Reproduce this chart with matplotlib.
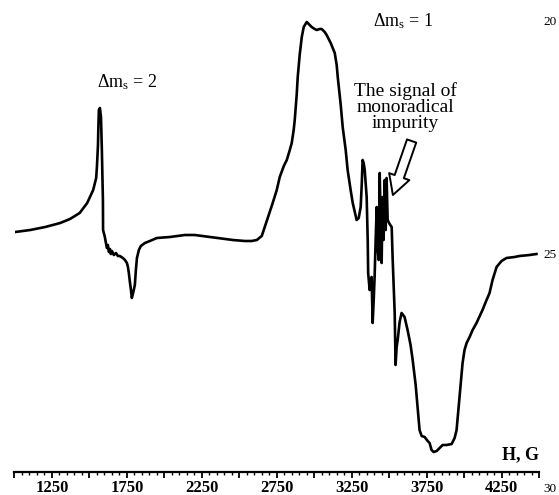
import matplotlib
matplotlib.use("Agg")
import matplotlib.pyplot as plt
from matplotlib.ticker import MultipleLocator, FuncFormatter

plt.rcParams['font.family'] = ['Liberation Serif', 'DejaVu Serif']
plt.rcParams['mathtext.fontset'] = 'custom'
plt.rcParams['mathtext.rm'] = 'Liberation Serif'
plt.rcParams['mathtext.it'] = 'Liberation Serif:italic'

# Magnetic field (G)
field = [1005, 1105, 1205, 1305, 1370, 1435, 1485, 1525, 1545, 1550, 1557, 1560, 1563, 1570, 1577,
         1583, 1587, 1590, 1591, 1603, 1610, 1617, 1623, 1630, 1637, 1643, 1650, 1663, 1677, 1690,
         1703, 1723, 1737, 1750, 1757, 1763, 1770, 1777, 1783, 1793, 1803, 1810, 1817, 1830, 1843,
         1870, 1903, 1950, 2037, 2137, 2203, 2303, 2403, 2457, 2537, 2583, 2617, 2650, 2670, 2697,
         2723, 2750, 2770, 2797, 2817, 2837, 2850, 2863, 2870, 2883, 2890, 2903, 2917, 2930, 2950,
         2963, 2983, 3003, 3017, 3037, 3050, 3070, 3083, 3110, 3137, 3150, 3157, 3177, 3190, 3210,
         3223, 3243, 3257, 3277, 3283, 3297, 3310, 3317, 3323, 3330, 3337, 3343, 3350, 3357, 3360,
         3370, 3377, 3383, 3390, 3397, 3403, 3410, 3417, 3423, 3430, 3437, 3443, 3450, 3453, 3457,
         3463, 3470, 3473, 3477, 3483, 3487, 3490, 3503, 3517, 3523, 3530, 3537, 3543, 3550, 3557,
         3570, 3583, 3603, 3623, 3643, 3657, 3677, 3690, 3703, 3717, 3737, 3757, 3770, 3783, 3797,
         3817, 3837, 3857, 3883, 3917, 3937, 3950, 3970, 3990, 4003, 4017, 4037, 4057, 4083, 4123,
         4150, 4170, 4190, 4217, 4250, 4283, 4337, 4370, 4437, 4483]

# EPR signal (arbitrary units)
signal = [1, 3, 6, 10, 14, 20, 30, 43, 55, 66, 88, 108, 123, 125, 116,
          83, 53, 33, 3, -4, -10, -15, -12, -19, -16, -21, -18, -22, -20, -23,
          -23, -25, -27, -30, -34, -40, -49, -57, -65, -59, -52, -37, -25, -17, -13,
          -10, -8, -5, -4, -2, -2, -4, -6, -7, -8, -8, -7, -3, 6, 18,
          30, 43, 56, 67, 73, 83, 90, 103, 113, 138, 156, 178, 196, 206, 211,
          209, 206, 204, 203, 204, 204, 201, 198, 190, 180, 168, 156, 128, 106, 83,
          63, 43, 30, 17, 13, 15, 26, 48, 73, 70, 63, 50, 36, -7, -40,
          -57, -47, -44, -90, -67, -44, -7, 26, -14, -27, 60, 13, -30, 3, 36,
          -7, 53, 23, 3, 55, 33, 13, 9, 6, -24, -52, -80, -132, -114, -107,
          -89, -80, -84, -97, -112, -127, -152, -174, -197, -203, -204, -208, -210, -217, -219,
          -218, -215, -212, -212, -211, -205, -197, -164, -130, -117, -110, -104, -97, -90, -77,
          -67, -60, -47, -34, -28, -25, -24, -23, -22, -21]

tick_labels = ['1250', '1750', '2250', '2750', '3250', '3750', '4250']

fig = plt.figure(figsize=(5.59, 4.95), dpi=100)
ax = fig.add_axes([14.5 / 559, 1 - 472 / 495, (539 - 14.5) / 559, 472 / 495])
ax.plot(field, signal, color='black', lw=1.9, solid_joinstyle='round')
ax.set_xlim(1000, 4500)
ax.set_ylim(-239, 233)

for s in ['left', 'right', 'top']:
    ax.spines[s].set_visible(False)
ax.spines['bottom'].set_linewidth(1.6)
ax.set_yticks([])

ax.xaxis.set_major_locator(MultipleLocator(250))
ax.xaxis.set_minor_locator(MultipleLocator(50))
lab_map = {int(t): t for t in tick_labels}
ax.xaxis.set_major_formatter(FuncFormatter(lambda v, p: lab_map.get(int(round(v)), '')))
ax.tick_params(axis='x', which='major', direction='out', length=4, width=1.3, pad=1.5,
               labelsize=12)
ax.tick_params(axis='x', which='minor', direction='out', length=2, width=1.0)
for lab in ax.get_xticklabels():
    lab.set_fontweight('bold')

ax.text(1750, 151, r'$\Delta\mathrm{m}_{\mathrm{s}}$ = 2', ha='center', va='center', fontsize=13)
ax.text(3590, 212, r'$\Delta\mathrm{m}_{\mathrm{s}}$ = 1', ha='center', va='center', fontsize=13)
ax.text(3608, 126, 'The signal of\nmonoradical\nimpurity', ha='center', va='center',
        fontsize=14, linespacing=0.9)
ax.annotate('', xy=(3525, 38), xytext=(3650, 92),
            arrowprops=dict(arrowstyle='simple,head_width=1.1,head_length=1.0,tail_width=0.5',
                            fc='white', ec='black', lw=1.4, mutation_scale=14,
                            shrinkA=0, shrinkB=0))

fig.text(521 / 559, 1 - 455 / 495, 'H, G', ha='center', va='center', fontsize=13,
         fontweight='bold')
fig.text(550 / 559, 1 - 22 / 495, '20', ha='center', va='center', fontsize=9.5)
fig.text(550 / 559, 1 - 255 / 495, '25', ha='center', va='center', fontsize=9.5)
fig.text(550 / 559, 1 - 489 / 495, '30', ha='center', va='center', fontsize=9.5)

fig.savefig('out.png', dpi=100, facecolor='white')
